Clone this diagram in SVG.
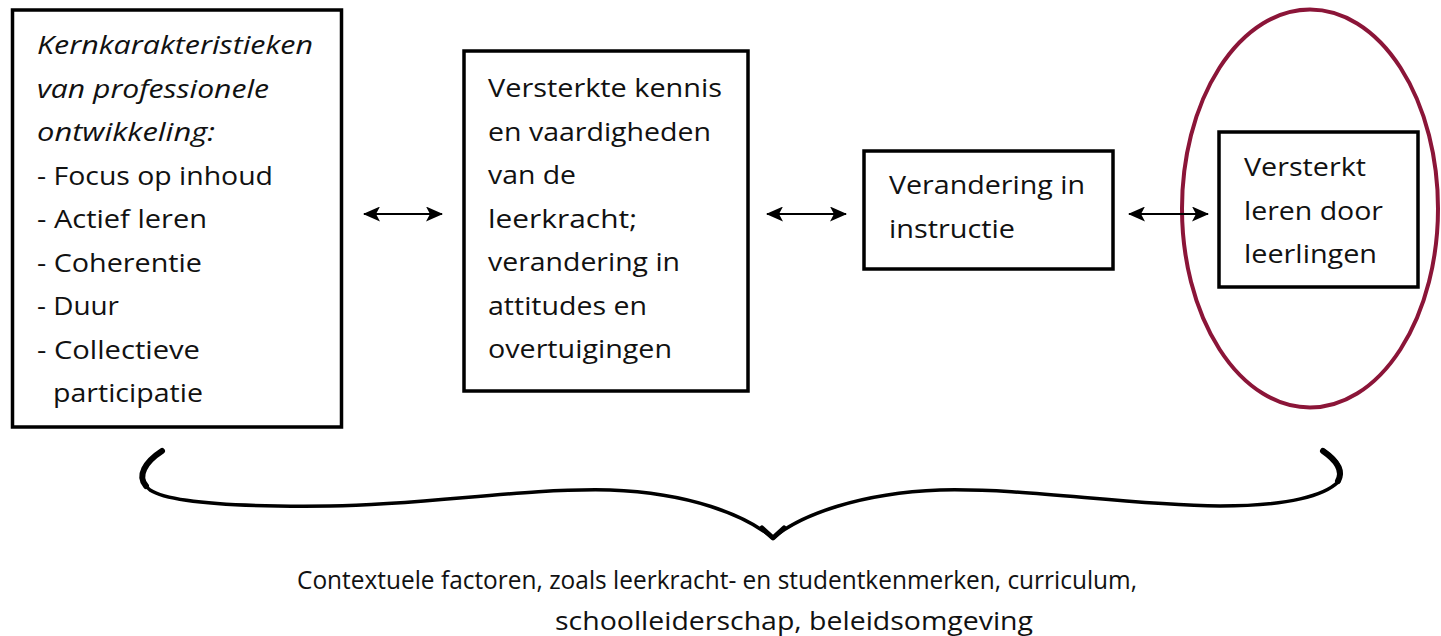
<svg xmlns="http://www.w3.org/2000/svg" width="1441" height="636" viewBox="0 0 1441 636">
<style>
.box{fill:#fff;stroke:#000;stroke-width:3.5}
.t{font-family:"Open Sans","Noto Sans","Liberation Sans",sans-serif;font-size:26px;fill:#111}
.i{font-style:italic}
.b{font-size:25.5px}
.conn{stroke:#000;stroke-width:2;fill:none}
.brace{stroke:#000;fill:none;stroke-linecap:round;stroke-linejoin:round}
</style>
<defs>
<marker id="ah" viewBox="0 0 17 15" refX="16" refY="7.5" markerWidth="17" markerHeight="15" markerUnits="userSpaceOnUse" orient="auto-start-reverse">
<path d="M0,0 L17,7.5 L0,15 L4,7.5 Z" fill="#000"/>
</marker>
</defs>
<g id="node-kern">
<rect class="box" x="12.5" y="10" width="329" height="417"/>
<text class="t i" x="37" y="54" textLength="276" lengthAdjust="spacingAndGlyphs">Kernkarakteristieken</text>
<text class="t i" x="37" y="97.5" textLength="232" lengthAdjust="spacingAndGlyphs">van professionele</text>
<text class="t i" x="37" y="141" textLength="178" lengthAdjust="spacingAndGlyphs">ontwikkeling:</text>
<text class="t" x="37" y="184.5" textLength="236" lengthAdjust="spacingAndGlyphs">- Focus op inhoud</text>
<text class="t" x="37" y="228" textLength="170" lengthAdjust="spacingAndGlyphs">- Actief leren</text>
<text class="t" x="37" y="271.5" textLength="165" lengthAdjust="spacingAndGlyphs">- Coherentie</text>
<text class="t" x="37" y="315" textLength="82" lengthAdjust="spacingAndGlyphs">- Duur</text>
<text class="t" x="37" y="358.5" textLength="163" lengthAdjust="spacingAndGlyphs">- Collectieve</text>
<text class="t" x="53" y="402" textLength="150" lengthAdjust="spacingAndGlyphs">participatie</text>
</g>
<g id="node-kennis">
<rect class="box" x="464" y="51" width="284" height="340"/>
<text class="t" x="488" y="97" textLength="234" lengthAdjust="spacingAndGlyphs">Versterkte kennis</text>
<text class="t" x="488" y="140.5" textLength="223" lengthAdjust="spacingAndGlyphs">en vaardigheden</text>
<text class="t" x="488" y="184" textLength="88" lengthAdjust="spacingAndGlyphs">van de</text>
<text class="t" x="488" y="227.5" textLength="149" lengthAdjust="spacingAndGlyphs">leerkracht;</text>
<text class="t" x="488" y="271" textLength="192" lengthAdjust="spacingAndGlyphs">verandering in</text>
<text class="t" x="488" y="314.5" textLength="159" lengthAdjust="spacingAndGlyphs">attitudes en</text>
<text class="t" x="488" y="358" textLength="184" lengthAdjust="spacingAndGlyphs">overtuigingen</text>
</g>
<g id="node-instructie">
<rect class="box" x="864" y="151" width="249" height="118"/>
<text class="t" x="889" y="194" textLength="196" lengthAdjust="spacingAndGlyphs">Verandering in</text>
<text class="t" x="889" y="237.5" textLength="126" lengthAdjust="spacingAndGlyphs">instructie</text>
</g>
<g id="node-leren">
<rect class="box" x="1219" y="132" width="199" height="155"/>
<text class="t" x="1244" y="176" textLength="122" lengthAdjust="spacingAndGlyphs">Versterkt</text>
<text class="t" x="1244" y="219.5" textLength="139" lengthAdjust="spacingAndGlyphs">leren door</text>
<text class="t" x="1244" y="263" textLength="133" lengthAdjust="spacingAndGlyphs">leerlingen</text>
</g>
<g id="highlight">
<ellipse cx="1310" cy="208.5" rx="128" ry="199" fill="none" stroke="#8B1538" stroke-width="4"/>
</g>
<g id="connectors">
<line class="conn" x1="364" y1="214" x2="442" y2="214" marker-start="url(#ah)" marker-end="url(#ah)"/>
<line class="conn" x1="767" y1="214" x2="846" y2="214" marker-start="url(#ah)" marker-end="url(#ah)"/>
<line class="conn" x1="1129" y1="214" x2="1208" y2="214" marker-start="url(#ah)" marker-end="url(#ah)"/>
</g>
<g id="context">
<path class="brace" stroke-width="3.5" d="M162,451 C145,462 135,478 150,490 C170,503 240,507 330,506 C430,505 520,488 610,490 C690,493 745,515 773,538 C800,515 860,493 940,490 C1030,488 1120,505 1220,506 C1290,506 1325,495 1338,482 C1346,470 1335,458 1323,450"/>
<path class="brace" stroke-width="6" d="M162,451 C145,462 137,476 146,486"/>
<path class="brace" stroke-width="6" d="M1323,451 C1336,460 1344,470 1338,481"/>
<path class="brace" stroke-width="5" d="M762,528 L773,538 L784,528"/>
<text class="t b" x="297" y="589" textLength="840" lengthAdjust="spacingAndGlyphs">Contextuele factoren, zoals leerkracht- en studentkenmerken, curriculum,</text>
<text class="t b" x="555" y="630" textLength="478" lengthAdjust="spacingAndGlyphs">schoolleiderschap, beleidsomgeving</text>
</g>
</svg>
